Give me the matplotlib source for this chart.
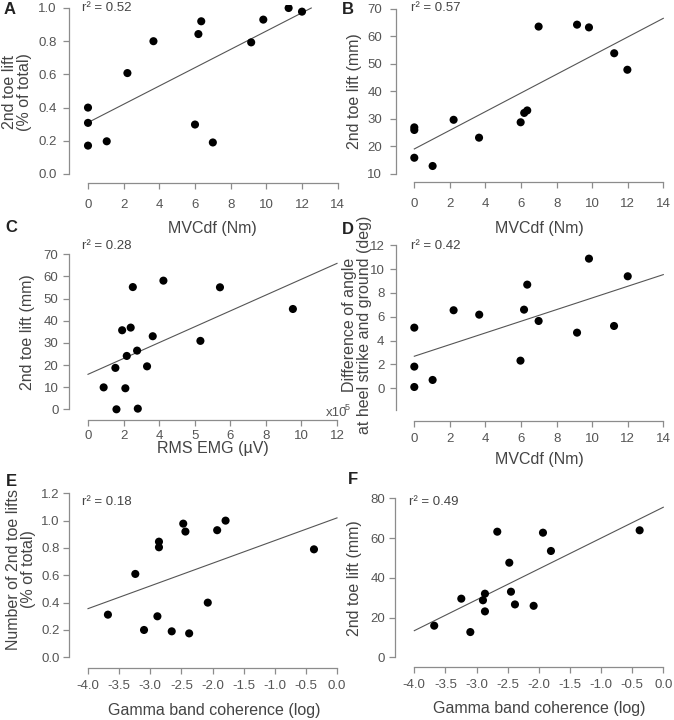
import matplotlib
matplotlib.use("Agg")
import matplotlib.pyplot as plt
import numpy as np

plt.rcParams['font.family'] = ['Liberation Sans', 'DejaVu Sans']

# ---------------- data ----------------
mvc_x = [0, 0, 0, 1.05, 2.21, 3.67, 6.0, 6.19, 6.35, 7.0, 9.15, 9.83, 11.25, 12.0]
a_y = [0.40, 0.308, 0.171, 0.197, 0.608, 0.80, 0.298, 0.843, 0.92, 0.19, 0.793, 0.93, 1.0, 0.978]

b_x = [0, 0, 0, 1.03, 2.21, 3.64, 5.98, 6.18, 6.35, 6.99, 9.15, 9.82, 11.24, 11.98]
b_y = [26.85, 25.9, 15.8, 12.8, 29.6, 23.1, 28.7, 32.1, 33.0, 63.5, 64.2, 63.2, 53.8, 47.8]

# panel C: x in axis units (ticks evenly spaced, labelled as in the source)
c_x = [0.88, 1.54, 1.60, 1.92, 2.10, 2.18, 2.40, 2.52, 2.76, 2.80, 3.32, 3.64, 4.24, 6.32, 7.42, 11.52]
c_y = [9.9, 18.7, 0.0, 35.7, 9.5, 24.1, 36.9, 55.2, 26.5, 0.3, 19.4, 33.0, 58.1, 30.9, 55.1, 45.3]
c_ticklabels = ['0', '2', '4', '5', '6', '8', '10', '12']

d_x = [0, 0, 0, 1.03, 2.21, 3.65, 5.97, 6.17, 6.35, 6.99, 9.15, 9.82, 11.23, 12.0]
d_y = [5.09, 1.82, 0.11, 0.70, 6.55, 6.18, 2.32, 6.6, 8.7, 5.65, 4.67, 10.88, 5.23, 9.4]

e_x = [-3.68, -3.24, -3.10, -2.885, -2.86, -2.86, -2.655, -2.47, -2.435, -2.375, -2.076, -1.925, -1.79, -0.37]
e_y = [0.312, 0.61, 0.20, 0.30, 0.846, 0.805, 0.19, 0.978, 0.92, 0.175, 0.40, 0.93, 1.0, 0.79]

f_x = [-3.68, -3.245, -3.10, -2.897, -2.865, -2.865, -2.667, -2.474, -2.447, -2.383, -2.083, -1.933, -1.805, -0.38]
f_y = [15.9, 29.5, 12.7, 28.7, 32.0, 23.1, 63.2, 47.6, 33.0, 26.6, 25.9, 62.7, 53.5, 63.9]

# regression lines (x range, y at ends)
a_fit = ([0, 12.52], [0.31, 1.0])
b_fit = ([0, 14], [19.0, 66.5])
c_fit = ([0, 14], [15.8, 65.9])
d_fit = ([0, 14], [2.69, 9.54])
e_fit = ([-4, 0], [0.356, 1.02])
f_fit = ([-4, 0], [13.4, 75.5])

r2 = ['r² = 0.52', 'r² = 0.57', 'r² = 0.28', 'r² = 0.42', 'r² = 0.18', 'r² = 0.49']
letters = ['A', 'B', 'C', 'D', 'E', 'F']

# ---------------- layout ----------------
W, H = 674, 720
fig = plt.figure(figsize=(W / 100, H / 100), dpi=100)

GRAY = '#8c8c8c'
TXT = '#444444'


def lim(p0, v0, p1, v1, a, b):
    s = (p1 - p0) / (v1 - v0)
    return v0 + (a - p0) / s, v0 + (b - p0) / s


def make_ax(box, xcal, ycal, xpad, ypad):
    l, t, r, b = box
    ax = fig.add_axes([l / W, 1 - b / H, (r - l) / W, (b - t) / H])
    ax.set_xlim(*lim(*xcal, l, r))
    ax.set_ylim(*lim(*ycal, b, t))
    for s in ['top', 'right']:
        ax.spines[s].set_visible(False)
    for s in ['left', 'bottom']:
        ax.spines[s].set_color(GRAY)
        ax.spines[s].set_linewidth(0.9)
    ax.tick_params(direction='out', length=4, width=0.9, color=GRAY,
                   labelsize=9.5, labelcolor='#555555')
    ax.tick_params(axis='x', pad=xpad)
    ax.tick_params(axis='y', pad=ypad)
    ax.patch.set_alpha(0)
    return ax


panels = [
    dict(box=(69, 5, 340, 183), xcal=(88, 0, 302, 12), ycal=(174, 0, 8, 1.0),
         x=mvc_x, y=a_y, fit=a_fit, xpad=7.7, ypad=4.8,
         xt=np.arange(0, 15, 2), xl=None, yt=np.arange(0, 1.01, 0.2), yfmt='%.1f',
         ybounds=(0, 1.0), xlabel='MVCdf (Nm)', ylabel='2nd toe lift\n(% of total)',
         xlab=(212, 228), ylab=(17.5, 92), r2pos=(82, 8), let=(4, 10)),
    dict(box=(396, 5, 666, 182), xcal=(414.3, 0, 663.3, 14), ycal=(173.7, 10, 8.7, 70),
         x=b_x, y=b_y, fit=b_fit, xpad=7.2, ypad=6.0,
         xt=np.arange(0, 15, 2), xl=None, yt=np.arange(10, 71, 10), yfmt='%d',
         ybounds=(10, 70), xlabel='MVCdf (Nm)', ylabel='2nd toe lift (mm)',
         xlab=(539, 228), ylab=(354, 91), r2pos=(411, 8), let=(342, 10)),
    dict(box=(69, 250, 340, 420), xcal=(88, 0, 337, 14), ycal=(409.3, 0, 254.3, 70),
         x=c_x, y=c_y, fit=c_fit, xpad=3.4, ypad=3.6,
         xt=np.arange(0, 15, 2), xl=c_ticklabels, yt=np.arange(0, 71, 10), yfmt='%d',
         ybounds=(0, 70), xlabel='RMS EMG (µV)', ylabel='2nd toe lift (mm)',
         xlab=(213, 449), ylab=(27.5, 332), r2pos=(82, 246), let=(5, 228)),
    dict(box=(396, 242, 666, 421), xcal=(414.3, 0, 663.3, 14), ycal=(388.3, 0, 245.3, 12),
         x=d_x, y=d_y, fit=d_fit, xpad=4.3, ypad=4.3,
         xt=np.arange(0, 15, 2), xl=None, yt=np.arange(0, 13, 2), yfmt='%d',
         ybounds=(-1.8, 12), xlabel='MVCdf (Nm)',
         ylabel='Difference of angle\nat heel strike and ground (deg)',
         xlab=(539, 460), ylab=(357, 325), r2pos=(411, 246), let=(342, 229)),
    dict(box=(69, 490, 340, 668), xcal=(88, -4, 337, 0), ycal=(657.3, 0, 493.3, 1.2),
         x=e_x, y=e_y, fit=e_fit, xpad=4.3, ypad=2.6,
         xt=np.arange(-4, 0.01, 0.5), xl=None, yt=np.arange(0, 1.21, 0.2), yfmt='%.1f',
         ybounds=(0, 1.2), xlabel='Gamma band coherence (log)',
         ylabel='Number of 2nd toe lifts\n(% of total)',
         xlab=(214, 710), ylab=(21, 569), r2pos=(82, 502), let=(6, 481)),
    dict(box=(395, 495, 666, 667), xcal=(414.3, -4, 663.3, 0), ycal=(657.3, 0, 498.3, 80),
         x=f_x, y=f_y, fit=f_fit, xpad=4.8, ypad=3.0,
         xt=np.arange(-4, 0.01, 0.5), xl=None, yt=np.arange(0, 81, 20), yfmt='%d',
         ybounds=(0, 80), xlabel='Gamma band coherence (log)', ylabel='2nd toe lift (mm)',
         xlab=(539, 708), ylab=(354.5, 578), r2pos=(409, 502), let=(348, 480)),
]

for i, p in enumerate(panels):
    ax = make_ax(p['box'], p['xcal'], p['ycal'], p['xpad'], p['ypad'])
    ax.plot(p['fit'][0], p['fit'][1], color='#555555', lw=0.8, zorder=2)
    ax.scatter(p['x'], p['y'], s=34, color='black', edgecolors='none', zorder=3)
    ax.set_xticks(p['xt'])
    if p['xl'] is not None:
        ax.set_xticklabels(p['xl'])
    else:
        ax.set_xticklabels(['%.1f' % v if p['xt'][0] < 0 else '%d' % v for v in p['xt']])
    ax.set_yticks(p['yt'])
    ax.set_yticklabels([p['yfmt'] % v for v in p['yt']])
    ax.spines['bottom'].set_bounds(p['xt'][0], p['xt'][-1])
    ax.spines['left'].set_bounds(*p['ybounds'])

    fig.text(p['xlab'][0] / W, 1 - p['xlab'][1] / H, p['xlabel'], ha='center', va='center',
             fontsize=11.5, color=TXT)
    fig.text(p['ylab'][0] / W, 1 - p['ylab'][1] / H, p['ylabel'], ha='center', va='center',
             rotation=90, fontsize=11.5, color=TXT, linespacing=1.0)
    fig.text(p['r2pos'][0] / W, 1 - p['r2pos'][1] / H, r2[i], ha='left', va='center',
             fontsize=9.5, color=TXT)
    fig.text(p['let'][0] / W, 1 - p['let'][1] / H, letters[i], ha='left', va='center',
             fontsize=12, fontweight='bold', color='#222222')

# exponent note on panel C
fig.text(326 / W, 1 - 413 / H, 'x10', ha='left', va='center', fontsize=9.5,
         color='#555555', zorder=10)
fig.text(342.5 / W, 1 - 407 / H, '-5', ha='left', va='center', fontsize=6.5,
         color='#555555', zorder=10)

fig.savefig('out.png', dpi=100)
